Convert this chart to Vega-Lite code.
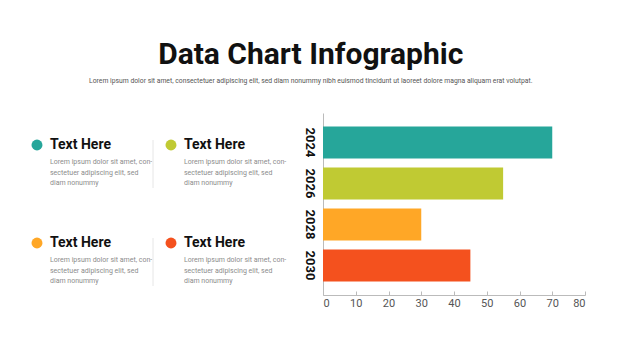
{
  "$schema": "https://vega.github.io/schema/vega-lite/v6.json",
  "padding": {"left": 30, "top": 40, "right": 20, "bottom": 10},
  "background": "white",
  "config": {
    "font": "Roboto, sans-serif",
    "view": {"stroke": null},
    "concat": {"spacing": 15}
  },
  "title": {
    "text": "Data Chart Infographic",
    "subtitle": "Lorem ipsum dolor sit amet, consectetuer adipiscing elit, sed diam nonummy nibh euismod tincidunt ut laoreet dolore magna aliquam erat volutpat.",
    "anchor": "middle",
    "frame": "bounds",
    "dx": 3,
    "fontSize": 30,
    "fontWeight": "bold",
    "color": "#111111",
    "font": "Roboto, sans-serif",
    "subtitleFont": "Roboto, sans-serif",
    "subtitleFontSize": 6.8,
    "subtitleColor": "#555555",
    "subtitlePadding": 8,
    "offset": 28
  },
  "data": {
    "values": [
      {"year": "2024", "value": 70},
      {"year": "2026", "value": 55},
      {"year": "2028", "value": 30},
      {"year": "2030", "value": 45}
    ]
  },
  "hconcat": [
    {
      "width": 250,
      "height": 182,
      "transform": [
        {"calculate": "indexof(['2024','2026','2028','2030'], datum.year) % 2", "as": "col"},
        {"calculate": "floor(indexof(['2024','2026','2028','2030'], datum.year) / 2)", "as": "row"}
      ],
      "encoding": {
        "x": {"field": "col", "type": "quantitative", "scale": {"domain": [0, 1], "range": [7, 141]}, "axis": null},
        "y": {"field": "row", "type": "quantitative", "scale": {"domain": [0, 1], "range": [32, 130]}, "axis": null}
      },
      "layer": [
        {
          "mark": {"type": "point", "filled": true, "opacity": 1, "size": 120},
          "encoding": {
            "color": {
              "field": "year", "type": "nominal", "legend": null,
              "scale": {"domain": ["2024", "2026", "2028", "2030"], "range": ["#26A69A", "#C0CA33", "#FFA726", "#F4511E"]}
            }
          }
        },
        {
          "mark": {"type": "text", "text": "Text Here", "align": "left", "baseline": "middle", "dx": 13, "fontSize": 14, "fontWeight": "bold", "color": "#111111"}
        },
        {
          "mark": {"type": "text", "text": ["Lorem ipsum dolor sit amet, con-", "sectetuer adipiscing elit, sed", "diam nonummy"], "align": "left", "baseline": "top", "dx": 13, "dy": 13, "lineHeight": 10.5, "fontSize": 7, "color": "#8c8c8c"}
        },
        {
          "transform": [{"filter": "datum.col == 1"}],
          "mark": {"type": "rule", "color": "#e6e6e6", "strokeWidth": 1, "xOffset": -18, "yOffset": -5, "y2Offset": 43},
          "encoding": {
            "y2": {"field": "row"}
          }
        }
      ]
    },
    {
      "width": 262,
      "height": 182,
      "mark": {"type": "bar", "strokeWidth": 0.8},
      "encoding": {
        "y": {
          "field": "year", "type": "nominal", "sort": null,
          "scale": {"paddingInner": 0.22, "paddingOuter": 0.33},
          "axis": {"title": null, "labelAngle": 90, "labelFontSize": 13, "labelFontWeight": "bold", "labelColor": "#111111", "ticks": false, "domainColor": "#bbbbbb", "labelPadding": 8}
        },
        "x": {
          "field": "value", "type": "quantitative",
          "scale": {"domain": [0, 80]},
          "axis": {"title": null, "values": [0, 10, 20, 30, 40, 50, 60, 70, 80], "grid": false, "domainColor": "#bbbbbb", "tickColor": "#bbbbbb", "tickSize": -4, "labelPadding": 6, "labelFontSize": 11, "labelColor": "#555555"}
        },
        "color": {
          "field": "year", "type": "nominal", "legend": null,
          "scale": {"domain": ["2024", "2026", "2028", "2030"], "range": ["#26A69A", "#C0CA33", "#FFA726", "#F4511E"]}
        }
      }
    }
  ]
}
